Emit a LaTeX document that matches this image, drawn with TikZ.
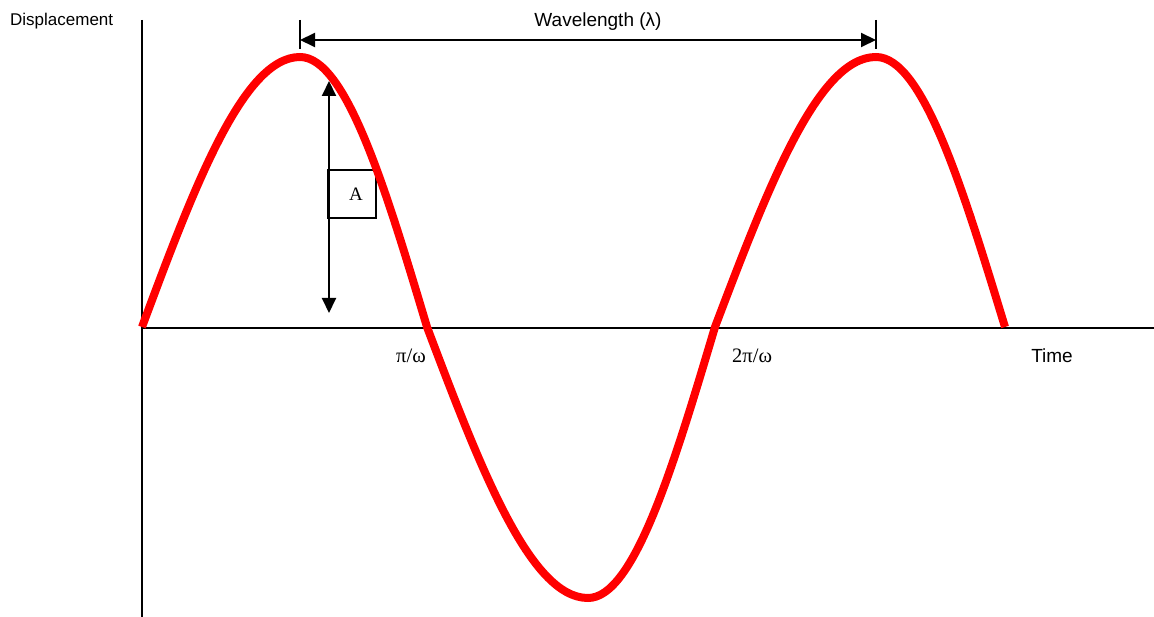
\documentclass[tikz,border=0pt]{standalone}
\usepackage{fontspec}
\setmainfont{Liberation Serif}
\newfontfamily\arialf{Liberation Sans}
\usetikzlibrary{arrows.meta}
\tikzset{
  axisline/.style={line width=2pt, black},
  dimline/.style={line width=2pt, black, {Triangle[length=15pt,width=14pt]}-{Triangle[length=15pt,width=14pt]}},
  tickline/.style={line width=2pt, black},
  wave/.style={line width=8pt, red},
  sanslabel/.style={inner sep=0pt, font=\arialf\fontsize{19}{22}\selectfont},
  seriflabel/.style={inner sep=0pt, font=\fontsize{20.5}{24}\selectfont},
  abox/.style={draw, line width=2pt, minimum width=48pt, minimum height=48pt, inner sep=0pt, outer sep=0pt}
}
\begin{document}
\begin{tikzpicture}[x=1pt,y=-1pt]
\useasboundingbox (0,0) rectangle (1154,617);
% axes
\coordinate (ytop) at (142,20);
\coordinate (ybot) at (142,617);
\coordinate (origin) at (142,328);
\coordinate (xend) at (1154,328);
\draw[axisline] (ytop) -- (ybot);
\draw[axisline] (origin) -- (xend);
% labels
\node[sanslabel, anchor=base west, font=\arialf\fontsize{17}{19}\selectfont] (disp) at (10,26) {Displacement};
\node[sanslabel, anchor=base] (time) at (1052,363) {Time};
\node[sanslabel, anchor=base] (wl) at (598,27) {Wavelength (λ)};
\node[seriflabel, anchor=base west] (pi1) at (396,363) {π/ω};
\node[seriflabel, anchor=base west] (pi2) at (732,363) {2π/ω};
% wavelength dimension
\coordinate (t1a) at (300,20);
\coordinate (t1b) at (300,49);
\coordinate (t2a) at (876,20);
\coordinate (t2b) at (876,49);
\coordinate (wl1) at (300,40);
\coordinate (wl2) at (876,40);
\draw[tickline] (t1a) -- (t1b);
\draw[tickline] (t2a) -- (t2b);
\draw[dimline] (wl1) -- (wl2);
% amplitude
\coordinate (am1) at (329,81);
\coordinate (am2) at (329,313);
\draw[dimline] (am1) -- (am2);
\node[abox, anchor=north west] (abox) at (328,170) {};
\node[seriflabel, anchor=base, font=\fontsize{19}{22}\selectfont] (alab) at (356,201) {A};
% wave
\coordinate (z0) at (142,327);
\coordinate (p1) at (300,57);
\coordinate (z1) at (427,327);
\coordinate (tr) at (588,598);
\coordinate (z2) at (715,327);
\coordinate (p2) at (876,57);
\coordinate (z3) at (1005,327);
\draw[wave] (z0) .. controls (193.5,188.7) and (242.8,57) .. (p1)
  .. controls (346.0,57) and (385.6,188.7) .. (z1)
  .. controls (479.5,465.8) and (529.7,598) .. (tr)
  .. controls (634.0,598) and (673.6,465.8) .. (z2)
  .. controls (767.5,188.7) and (817.7,57) .. (p2)
  .. controls (922.7,57) and (962.9,188.7) .. (z3);
\end{tikzpicture}
\end{document}
